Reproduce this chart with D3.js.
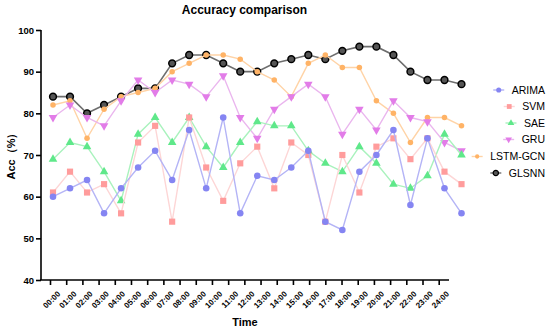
<!DOCTYPE html>
<html><head><meta charset="utf-8">
<script src="https://cdn.jsdelivr.net/npm/d3@7"></script>
<style>body{margin:0;background:#fff}svg{display:block}text{font-family:Arial,"Liberation Sans",sans-serif}</style>
</head><body><svg id="c" width="550" height="331"></svg>
<script>
const hours = ["00:00","01:00","02:00","03:00","04:00","05:00","06:00","07:00","08:00","09:00","10:00","11:00","12:00","13:00","14:00","15:00","16:00","17:00","18:00","19:00","20:00","21:00","22:00","23:00","24:00"];
const yTicks = [40,50,60,70,80,90,100];
const seriesNames = ["ARIMA","SVM","SAE","GRU","LSTM-GCN","GLSNN"];
const arima = [60,62,64,56,62,67,71,64,76,62,79,56,65,64,67,71,54,52,66,70,76,58,74,62,56];
const svm   = [61,66,61,63,56,73,77,54,79,67,59,68,72,62,73,70,54,70,61,72,74,69,74,66,63];
const sae   = [69,73,72,66,59,75,79,73,79,72,67,73,78,77,77,71,68,66,72,68,63,62,65,75,70];
const gru   = [79,82,79,77,83,88,85,88,87,84,89,79,74,81,84,87,84,75,81,76,83,79,78,73,71];
const lstm  = [82,83,74,81,84,85,86,90,92,94,94,93,90,88,84,92,94,91,91,83,80,73,79,79,77];
const glsnn = [84,84,80,82,84,86,86,92,94,94,92,90,90,92,93,94,93,95,96,96,94,90,88,88,87];

const seriesData = [arima, svm, sae, gru, lstm, glsnn];
const styles = [
  {line:"#b4b4f6", fill:"#8585f2", stroke:"none", sym:d3.symbolCircle, size:34},
  {line:"#fdd6d6", fill:"#ff9c9c", stroke:"none", sym:d3.symbolSquare, size:38},
  {line:"#a9f2bd", fill:"#5fe88a", stroke:"none", sym:"triUp", size:32},
  {line:"#eab6ee", fill:"#e27ce8", stroke:"none", sym:"triDown", size:32},
  {line:"#ffd3a6", fill:"#ffb366", stroke:"none", sym:d3.symbolCircle, size:24},
  {line:"#6e6e6e", fill:"#555", stroke:"#000", sym:d3.symbolCircle, size:36}
];

const svg = d3.select("#c");
const y = d3.scaleLinear().domain([40,100]).range([280,30]);
const xData = d3.scalePoint().domain(hours).range([53,461.5]);
const xAxisScale = d3.scalePoint().domain(hours).range([50,438.7]);

function symPath(s, size){
  if (s === "triUp" || s === "triDown") return d3.symbol().type(d3.symbolTriangle).size(size)();
  return d3.symbol().type(s).size(size)();
}

// axes
const yAxis = svg.append("g").attr("transform","translate(41,0)")
  .call(d3.axisLeft(y).tickValues(yTicks).tickSize(5).tickPadding(2));
const xAxis = svg.append("g").attr("transform","translate(0,280)")
  .call(d3.axisBottom(xAxisScale).tickSize(5).tickPadding(3));
[yAxis,xAxis].forEach(g=>{
  g.selectAll("path,line").attr("stroke","#000").attr("stroke-width",1.6);
  g.selectAll("text").attr("fill","#000").attr("font-weight","bold");
});
yAxis.select(".domain").attr("d","M0,280V30");
yAxis.selectAll("text").attr("font-size","9.5px");
xAxis.select(".domain").attr("d","M40,0H449");
xAxis.selectAll("text").attr("font-size","8px")
  .attr("text-anchor","end").attr("dy","0.3em")
  .attr("transform","translate(3,7) rotate(-45)");

// series
const order = [5,4,3,2,1,0];
order.forEach(i=>{
  const st = styles[i], data = seriesData[i];
  const g = svg.append("g");
  g.append("path").datum(data)
    .attr("fill","none").attr("stroke",st.line).attr("stroke-width",i===5?1.6:1.4)
    .attr("d", d3.line().x((d,j)=>xData(hours[j])).y(d=>y(d)));
  g.selectAll("path.m").data(data).join("path").attr("class","m")
    .attr("d", symPath(st.sym, st.size))
    .attr("transform",(d,j)=>`translate(${xData(hours[j])},${y(d)})${st.sym==="triDown"?" rotate(180)":""}`)
    .attr("fill",st.fill).attr("stroke",st.stroke).attr("stroke-width",1.5);
});

// legend
const legY = [90,106.5,123,139.5,156.5,173];
seriesNames.forEach((name,i)=>{
  const st = styles[i];
  const t = svg.append("text").attr("x",545).attr("y",legY[i]).attr("dy","0.35em")
    .attr("text-anchor","end").attr("font-size","10.5px").attr("fill","#000").text(name);
  const w = t.node().getComputedTextLength();
  const cx = 545 - w - 13;
  svg.append("line").attr("x1",cx-5.5).attr("x2",cx+5.5).attr("y1",legY[i]).attr("y2",legY[i])
    .attr("stroke",st.line).attr("stroke-width",1.4);
  svg.append("path").attr("d",symPath(st.sym, st.size*0.6))
    .attr("transform",`translate(${cx},${legY[i]})${st.sym==="triDown"?" rotate(180)":""}`)
    .attr("fill",st.fill).attr("stroke",st.stroke).attr("stroke-width",1.3);
});

// titles
svg.append("text").attr("x",244.5).attr("y",14).attr("text-anchor","middle")
  .attr("font-size","12px").attr("font-weight","bold").text("Accuracy comparison");
svg.append("text").attr("x",245).attr("y",326).attr("text-anchor","middle")
  .attr("font-size","11px").attr("font-weight","bold").text("Time");
svg.append("text").attr("transform","translate(15,153.5) rotate(-90)").attr("text-anchor","middle")
  .attr("font-size","11px").attr("font-weight","bold").text("Acc（%）");
</script></body></html>
